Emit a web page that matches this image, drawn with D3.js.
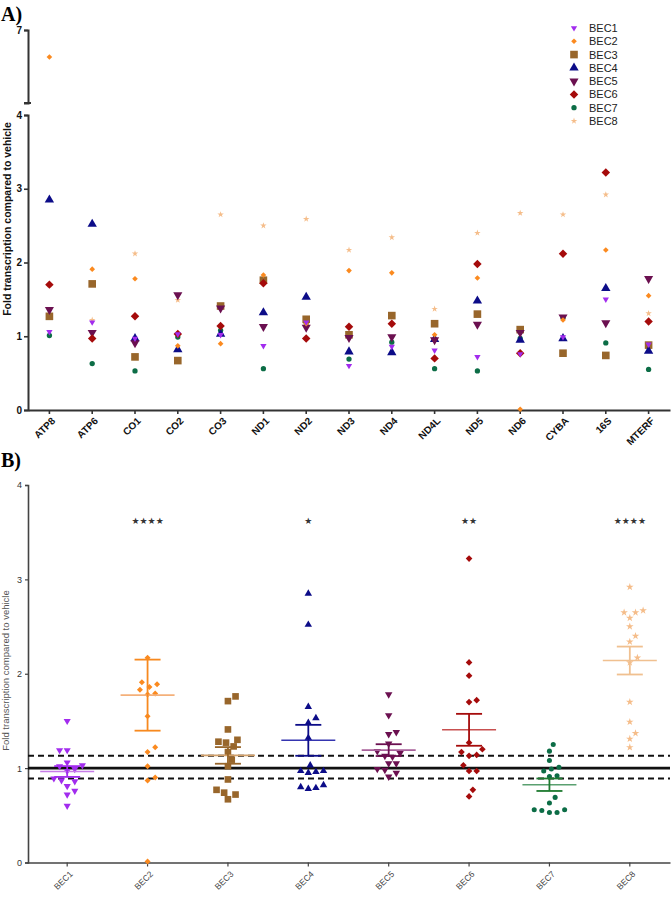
<!DOCTYPE html>
<html><head><meta charset="utf-8">
<script src="https://cdn.jsdelivr.net/npm/d3@7"></script>
<style>body{margin:0;background:#fff}svg{display:block}text{font-family:"Liberation Sans",Arial,sans-serif}</style>
</head><body>
<script>
// ---------- DATA ----------
const genes = ["ATP8","ATP6","CO1","CO2","CO3","ND1","ND2","ND3","ND4","ND4L","ND5","ND6","CYBA","16S","MTERF"];
const groups = ["BEC1","BEC2","BEC3","BEC4","BEC5","BEC6","BEC7","BEC8"];
const bec1 = [1.06,1.19,0.97,1.03,1.02,0.87,1.19,0.60,0.86,0.81,0.72,0.76,0.99,1.50,0.89];
const bec2 = [6.63,1.91,1.78,0.87,0.90,1.83,1.17,1.89,1.86,1.02,1.79,0.01,1.22,2.17,1.55];
const bec3 = [1.27,1.71,0.72,0.67,1.41,1.76,1.23,1.02,1.28,1.17,1.30,1.09,0.77,0.74,0.88];
const bec4 = [2.85,2.52,0.97,0.82,1.03,1.32,1.53,0.79,0.78,0.96,1.48,0.95,0.97,1.65,0.80];
const bec5 = [1.36,1.05,0.91,1.56,1.38,1.13,1.12,0.98,0.99,0.95,1.16,1.05,1.26,1.18,1.78];
const bec6 = [1.70,0.97,1.27,1.03,1.14,1.72,0.97,1.13,1.17,0.70,1.98,0.77,2.12,3.22,1.20];
const bec7 = [1.01,0.63,0.53,0.99,1.08,0.56,1.18,0.69,0.92,0.56,0.53,0.97,1.25,0.91,0.55];
const bec8 = [1.70,1.22,2.12,1.49,2.65,2.50,2.59,2.17,2.34,1.37,2.40,2.67,2.65,2.92,1.31];
const series = [bec1,bec2,bec3,bec4,bec5,bec6,bec7,bec8];
const yTicksA = [0,1,2,3,4];
const yTicksAUpper = [7];
const yTicksB = [0,1,2,3,4];
const refLines = [0.89, 1.0, 1.13];
const significance = ["", "****", "", "*", "", "**", "", "****"];
const axisTitle = "Fold transcription compared to vehicle";

// ---------- STYLE ----------
const colors = ["#a22cee","#fb8a1f","#98662b","#0c0c88","#6b1050","#a50b0b","#0c6d46","#f5bd8a"];
const meanColors = ["#c77de8","#f4b07a","#d2a06a","#3535b0","#a8609a","#c85050","#5aa070","#f0c090"];
const semColors = ["#a22cee","#f7891f","#98662b","#0c0c88","#6b1050","#a50b0b","#1e7a30","#f0c090"];
const symA = [
  {t:d3.symbolTriangle, s:17, r:180},
  {t:d3.symbolSquare, s:16, r:45},
  {t:d3.symbolSquare, s:58, r:0},
  {t:d3.symbolTriangle, s:38, r:0},
  {t:d3.symbolTriangle, s:36, r:180},
  {t:d3.symbolSquare, s:36, r:45},
  {t:d3.symbolCircle, s:22, r:0},
  {t:d3.symbolStar, s:13, r:0}
];
const symB = [
  {t:d3.symbolTriangle, s:22, r:180},
  {t:d3.symbolSquare, s:18, r:45},
  {t:d3.symbolSquare, s:44, r:0},
  {t:d3.symbolTriangle, s:24, r:0},
  {t:d3.symbolTriangle, s:24, r:180},
  {t:d3.symbolSquare, s:22, r:45},
  {t:d3.symbolCircle, s:20, r:0},
  {t:d3.symbolStar, s:18, r:0}
];
const drawOrderA = [7,6,2,3,4,5,1,0];

const W = 672, H = 900;
const svg = d3.select("body").append("svg").attr("width", W).attr("height", H);

function styleAxis(g, color, w, tw) {
  g.select(".domain").attr("stroke",color).attr("stroke-width",w);
  g.selectAll(".tick line").attr("stroke",color).attr("stroke-width",tw);
}
function diagLabels(parent, data, xf, y0, size, weight, fill) {
  parent.append("g").selectAll("text").data(data).enter().append("text")
    .attr("transform", d => `translate(${xf(d)},${y0}) rotate(-45)`)
    .attr("text-anchor","end").attr("dy","0.35em")
    .style("font-size",size).style("font-weight",weight).attr("fill",fill).text(d=>d);
}

// ---------- PANEL A ----------
const xA = d3.scaleBand().domain(genes).range([28, 670]);
const yA = d3.scaleLinear().domain([0,4]).range([410,115]);
const yAU = d3.scaleLinear().domain([6,7]).range([103,30]);
const yPosA = v => v > 4 ? yAU(v) : yA(v);
const cxA = g => xA(g) + xA.bandwidth()/2;

svg.append("text").attr("x",1).attr("y",21).text("A)")
  .style("font-family","'Liberation Serif','Times New Roman',serif").style("font-weight","bold").style("font-size","20px");

const gyA = svg.append("g").attr("transform","translate(28,0)")
  .call(d3.axisLeft(yA).tickValues(yTicksA).tickSize(4).tickPadding(2).tickFormat(d3.format("d")));
const gyAU = svg.append("g").attr("transform","translate(28,0)")
  .call(d3.axisLeft(yAU).tickValues(yTicksAUpper).tickSize(4).tickPadding(2).tickFormat(d3.format("d")));
gyAU.append("line").attr("x1",-4).attr("x2",3).attr("y1",yAU(6)).attr("y2",yAU(6)).attr("stroke","#333").attr("stroke-width",2);
const gxA = svg.append("g").attr("transform","translate(0,410)")
  .call(d3.axisBottom(xA).tickSize(4).tickSizeOuter(0).tickFormat(""));
[gyA,gyAU,gxA].forEach(g=>{
  styleAxis(g,"#333",2,1.6);
  g.selectAll("text").style("font-size","10px").style("font-weight","bold").attr("fill","#111");
});
diagLabels(svg, genes, d => cxA(d)+4, 419, "10px", "bold", "#111");

svg.append("text").attr("transform",`translate(11,${(120+318)/2}) rotate(-90)`)
  .attr("text-anchor","middle").style("font-size","10.5px").style("font-weight","bold").attr("fill","#111").text(axisTitle);

const ptsA = svg.append("g");
drawOrderA.forEach(si => {
  const vals = series[si], sp = symA[si];
  ptsA.selectAll(null).data(vals.map((v,i)=>({g:genes[i],v}))).enter().append("path")
    .attr("d", d3.symbol().type(sp.t).size(sp.s))
    .attr("transform", d => `translate(${cxA(d.g)},${yPosA(d.v)}) rotate(${sp.r})`)
    .attr("fill", colors[si]);
});

// legend
const leg = svg.append("g");
const legY = d3.scalePoint().domain(groups).range([28,121]);
groups.forEach((gname, si) => {
  const sp = symA[si];
  leg.append("path").attr("d", d3.symbol().type(sp.t).size(sp.s))
    .attr("transform", `translate(574,${legY(gname)}) rotate(${sp.r})`).attr("fill", colors[si]);
  leg.append("text").attr("x",589).attr("y",legY(gname)+4).style("font-size","11px").attr("fill","#222").text(gname);
});

// ---------- PANEL B ----------
svg.append("text").attr("x",1).attr("y",467).text("B)")
  .style("font-family","'Liberation Serif','Times New Roman',serif").style("font-weight","bold").style("font-size","20px");

const xB = d3.scaleBand().domain(groups).range([27, 670]);
const yB = d3.scaleLinear().domain([0,4]).range([862.5,485]);
const cxB = g => xB(g) + xB.bandwidth()/2;

const gyB = svg.append("g").attr("transform","translate(28,0)")
  .call(d3.axisLeft(yB).tickValues(yTicksB).tickSize(3).tickPadding(3).tickFormat(d3.format("d")));
const gxB = svg.append("g").attr("transform",`translate(0,${yB(0)})`)
  .call(d3.axisBottom(xB).tickSize(4).tickSizeOuter(0).tickFormat(""));
[gyB,gxB].forEach(g=>{
  styleAxis(g,"#444",1.6,1.2);
  g.selectAll("text").style("font-size","9px").attr("fill","#333");
});
diagLabels(svg, groups, d => cxB(d)+4, yB(0)+10, "8.5px", "normal", "#444");

svg.append("text").attr("transform",`translate(9,${(575+766)/2}) rotate(-90)`)
  .attr("text-anchor","middle").style("font-size","9.5px").attr("fill","#555").text(axisTitle);

refLines.forEach(v => {
  svg.append("line").attr("x1",28).attr("x2",670).attr("y1",yB(v)).attr("y2",yB(v))
    .attr("stroke","#111").attr("stroke-width", v===1 ? 2.6 : 2)
    .attr("stroke-dasharray", v===1 ? null : "6,4");
});

const rB = 3.8;
function swarm(vals, cx) {
  const pts = vals.filter(v => v <= 4).map(v => ({v, y:yB(v)})).sort((a,b)=>a.v-b.v);
  const placed = [];
  pts.forEach(p => {
    let best = null;
    for (let k=0;k<60 && best===null;k++){
      const offs = k===0 ? [0] : [k*0.5*rB, -k*0.5*rB];
      for (const o of offs){
        const ok = placed.every(q => Math.hypot(q.x-(cx+o), q.y-p.y) >= 2*rB);
        if (ok){ best = cx+o; break; }
      }
    }
    p.x = best; placed.push(p);
  });
  return placed;
}

const ptsB = svg.append("g");
const errB = svg.append("g");
series.forEach((vals, si) => {
  const g = groups[si], cx = cxB(g), sp = symB[si];
  const pts = swarm(vals, cx);
  ptsB.selectAll(null).data(pts).enter().append("path")
    .attr("d", d3.symbol().type(sp.t).size(sp.s))
    .attr("transform", d => `translate(${d.x},${d.y}) rotate(${sp.r})`)
    .attr("fill", colors[si]);
  const m = d3.mean(vals), sem = d3.deviation(vals)/Math.sqrt(vals.length);
  errB.append("line").attr("x1",cx-27).attr("x2",cx+27).attr("y1",yB(m)).attr("y2",yB(m))
    .attr("stroke",meanColors[si]).attr("stroke-width",1.6);
  errB.append("line").attr("x1",cx).attr("x2",cx).attr("y1",yB(m+sem)).attr("y2",yB(m-sem))
    .attr("stroke",semColors[si]).attr("stroke-width",1.8);
  [m+sem, m-sem].forEach(v => errB.append("line").attr("x1",cx-13).attr("x2",cx+13)
    .attr("y1",yB(v)).attr("y2",yB(v)).attr("stroke",semColors[si]).attr("stroke-width",1.8));
  if (significance[si]) {
    svg.append("text").attr("x",cx).attr("y",yB(3.63)+4).attr("text-anchor","middle")
      .style("font-family","'DejaVu Sans',sans-serif").style("font-size","9px")
      .attr("fill","#333").text(significance[si].replace(/\*/g,"\u2605"));
  }
});
</script>
</body></html>
